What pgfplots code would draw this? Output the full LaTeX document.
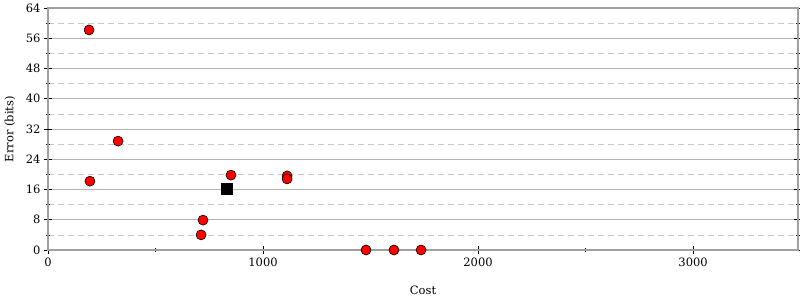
\documentclass[border=0pt]{standalone}
\usepackage{fontspec}
\setmainfont{DejaVu Serif}
\usepackage{pgfplots}
\pgfplotsset{compat=1.18}
\definecolor{gridmaj}{HTML}{B4B4B4}
\definecolor{gridmin}{HTML}{C8C8C8}
\definecolor{axgray}{HTML}{A0A0A0}
\begin{document}
\begin{tikzpicture}
\begin{axis}[
  at={(0,0)}, anchor=south west,
  scale only axis, width=750pt, height=242pt,
  xmin=0, xmax=3488, ymin=0, ymax=64,
  axis line style={axgray, line width=1.3pt},
  xtick={0,1000,2000,3000}, minor xtick={500,1500,2500},
  ytick={0,8,...,64}, minor ytick={4,12,...,60},
  xtick pos=bottom, ytick pos=both,
  tick align=center,
  major tick length=8pt, minor tick length=4pt,
  every tick/.style={black, line width=0.6pt},
  ymajorgrids, yminorgrids,
  major grid style={gridmaj, line width=0.6pt},
  minor grid style={gridmin, dash pattern=on 6pt off 4pt, line width=0.6pt},
  extra y ticks={32}, extra y tick labels={},
  extra y tick style={grid style={color=black!13, line width=1.6pt}},
  /pgf/number format/assume math mode=true,
  /pgf/number format/1000 sep={},
  tick label style={font=\fontsize{11.5}{13}\selectfont},
  label style={font=\fontsize{11.5}{13}\selectfont},
  xlabel={Cost}, ylabel={Error (bits)},
  xlabel style={at={(axis description cs:0.5,-0.165)}, anchor=center},
  ylabel style={at={(axis description cs:-0.0507,0.5)}, anchor=center},
  clip=false,
]
\addplot[only marks, mark=*, mark size=5pt, mark options={fill=red, draw=black, line width=0.6pt}] coordinates {
(191,58.2) (195,18.2) (326,28.8) (712,4.0) (721,7.9) (851,19.8)
(1112,19.6) (1112,18.8) (1479,0) (1609,0) (1735,0)
};
\addplot[only marks, mark=square*, mark size=5.5pt, mark options={fill=black, draw=black}] coordinates {
(833,16.1)
};
\end{axis}
\pgfresetboundingbox
\path[use as bounding box] (-48pt,-50pt) rectangle (752pt,250pt);
\end{tikzpicture}
\end{document}
